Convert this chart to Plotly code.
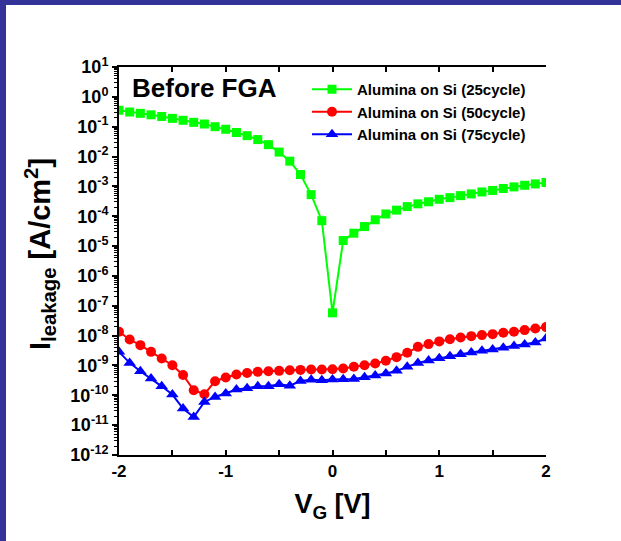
import plotly.graph_objects as go

V = [-2.0, -1.9, -1.8, -1.7, -1.6, -1.5, -1.4, -1.3, -1.2, -1.1, -1.0, -0.9, -0.8, -0.7,
     -0.6, -0.5, -0.4, -0.3, -0.2, -0.1, 0.0, 0.1, 0.2, 0.3, 0.4, 0.5, 0.6, 0.7, 0.8, 0.9,
     1.0, 1.1, 1.2, 1.3, 1.4, 1.5, 1.6, 1.7, 1.8, 1.9, 2.0]

I_25 = [0.356, 0.31, 0.28, 0.25, 0.22, 0.19, 0.164, 0.14, 0.123, 0.10, 0.082, 0.064, 0.05,
        0.037, 0.025, 0.0141, 7.0e-3, 2.5e-3, 5.3e-4, 7.1e-5, 5.8e-8, 1.53e-5, 2.7e-5,
        4.5e-5, 7.6e-5, 1.19e-4, 1.6e-4, 2.1e-4, 2.6e-4, 3.05e-4, 3.7e-4, 4.2e-4, 4.9e-4,
        5.6e-4, 6.5e-4, 7.3e-4, 8.5e-4, 9.6e-4, 1.09e-3, 1.21e-3, 1.35e-3]

I_50 = [1.34e-8, 7.4e-9, 4.8e-9, 2.86e-9, 1.72e-9, 1.02e-9, 4.8e-10, 1.48e-10, 1.09e-10,
        2.97e-10, 3.95e-10, 4.99e-10, 5.6e-10, 6.1e-10, 6.4e-10, 6.6e-10, 6.95e-10, 7.1e-10,
        7.3e-10, 7.3e-10, 7.5e-10, 7.9e-10, 9.0e-10, 1.02e-9, 1.17e-9, 1.43e-9, 1.9e-9,
        2.65e-9, 4.2e-9, 5.2e-9, 6.4e-9, 7.6e-9, 8.7e-9, 9.6e-9, 1.04e-8, 1.12e-8, 1.24e-8,
        1.34e-8, 1.53e-8, 1.74e-8, 1.93e-8]

I_75 = [2.86e-9, 1.22e-9, 6.4e-10, 3.66e-10, 2.0e-10, 1.06e-10, 3.6e-11, 1.88e-11, 6.0e-11,
        8.8e-11, 1.15e-10, 1.57e-10, 1.73e-10, 2.0e-10, 2.0e-10, 2.35e-10, 2.1e-10, 3.0e-10,
        3.3e-10, 3.2e-10, 3.4e-10, 3.47e-10, 3.55e-10, 4.05e-10, 4.6e-10, 5.4e-10, 6.6e-10,
        9.0e-10, 1.22e-9, 1.47e-9, 1.76e-9, 2.05e-9, 2.39e-9, 2.73e-9, 3.09e-9, 3.44e-9,
        3.9e-9, 4.45e-9, 5.07e-9, 5.9e-9, 8.0e-9]

series_names = ["Alumina on Si (25cycle)", "Alumina on Si (50cycle)", "Alumina on Si (75cycle)"]
series_colors = ["#00FF00", "#FF0000", "#0000FF"]
series_symbols = ["square", "circle", "triangle-up"]
series_sizes = [9, 10, 11]

y_exponents = [1, 0, -1, -2, -3, -4, -5, -6, -7, -8, -9, -10, -11, -12]
y_tickvals = [10.0 ** e for e in y_exponents]
y_ticktext = [f"10<sup>{e}</sup>" for e in y_exponents]
x_tickvals = [-2, -1, 0, 1, 2]
x_ticktext = ["-2", "-1", "0", "1", "2"]

FONT = "Liberation Sans"
W, H = 621, 541
ML, MR, MT, MB = 119, 75, 67, 86
PW, PH = W - ML - MR, H - MT - MB

fig = go.Figure()
for ys, name, col, sym, sz in zip([I_25, I_50, I_75], series_names, series_colors,
                                  series_symbols, series_sizes):
    fig.add_trace(go.Scatter(
        x=V, y=ys, name=name, mode="lines+markers",
        line=dict(color=col, width=2),
        marker=dict(color=col, symbol=sym, size=sz),
    ))

fig.update_layout(
    width=W, height=H,
    margin=dict(l=ML, r=MR, t=MT, b=MB),
    paper_bgcolor="white", plot_bgcolor="white",
    font=dict(family=FONT, color="black"),
    showlegend=True,
    legend=dict(
        x=(307 - ML) / PW, y=(H - MB - 73) / PH, xanchor="left", yanchor="top",
        bgcolor="rgba(0,0,0,0)", borderwidth=0,
        font=dict(family=FONT, size=15, color="black", weight="bold"),
        itemwidth=40, tracegroupgap=0,
    ),
    xaxis=dict(
        range=[-2, 2], tickvals=x_tickvals, ticktext=x_ticktext,
        ticks="inside", ticklen=5, tickwidth=1.5, tickcolor="black",
        minor=dict(dtick=0.5, ticks="inside", ticklen=5, tickwidth=1.5, tickcolor="black"),
        showline=True, linewidth=2, linecolor="black", mirror="ticks",
        showgrid=False, zeroline=False,
        tickfont=dict(family=FONT, size=17, weight="bold"),
        title=dict(text="V<sub>G</sub> [V]", standoff=14,
                   font=dict(family=FONT, size=27, weight="bold")),
    ),
    yaxis=dict(
        type="log", range=[-12, 1], tickvals=y_tickvals, ticktext=y_ticktext,
        ticks="outside", ticklen=5, tickwidth=1.5, tickcolor="black",
        minor=dict(dtick="D1", ticks="outside", ticklen=3, tickwidth=1, tickcolor="black"),
        showline=True, linewidth=2, linecolor="black",
        showgrid=False, zeroline=False,
        tickfont=dict(family=FONT, size=18, weight="bold"),
    ),
    yaxis2=dict(
        type="log", range=[-12, 1], overlaying="y", side="right",
        tickvals=y_tickvals, showticklabels=False,
        ticks="inside", ticklen=5, tickwidth=1.5, tickcolor="black",
        minor=dict(dtick="D1", ticks="inside", ticklen=3, tickwidth=1, tickcolor="black"),
        showline=True, linewidth=2, linecolor="black",
        showgrid=False, zeroline=False,
    ),
    annotations=[
        dict(text="Before FGA", x=(130 - ML) / PW, y=(H - MB - 88) / PH,
             xref="paper", yref="paper", xanchor="left", yanchor="middle", showarrow=False,
             font=dict(family=FONT, size=26, color="black", weight="bold")),
        dict(text="I<sub>leakage</sub> [A/cm<sup>2</sup>]", textangle=-90,
             x=(40 - ML) / PW, y=(H - MB - 254) / PH,
             xref="paper", yref="paper", xanchor="center", yanchor="middle", showarrow=False,
             font=dict(family=FONT, size=29, color="black", weight="bold")),
    ],
    shapes=[
        dict(type="rect", xref="paper", yref="paper", layer="above",
             x0=-ML / PW, x1=(-ML + 6) / PW, y0=-MB / PH, y1=(PH + MT) / PH,
             fillcolor="#333399", line=dict(width=0)),
        dict(type="rect", xref="paper", yref="paper", layer="above",
             x0=-ML / PW, x1=(PW + MR) / PW, y0=(PH + MT - 5) / PH, y1=(PH + MT + 2) / PH,
             fillcolor="#333399", line=dict(width=0)),
    ],
)

fig.write_html(
    "out.html",
    config={"displayModeBar": False},
    post_script="document.body.style.margin='0';document.body.style.overflow='hidden';",
)
